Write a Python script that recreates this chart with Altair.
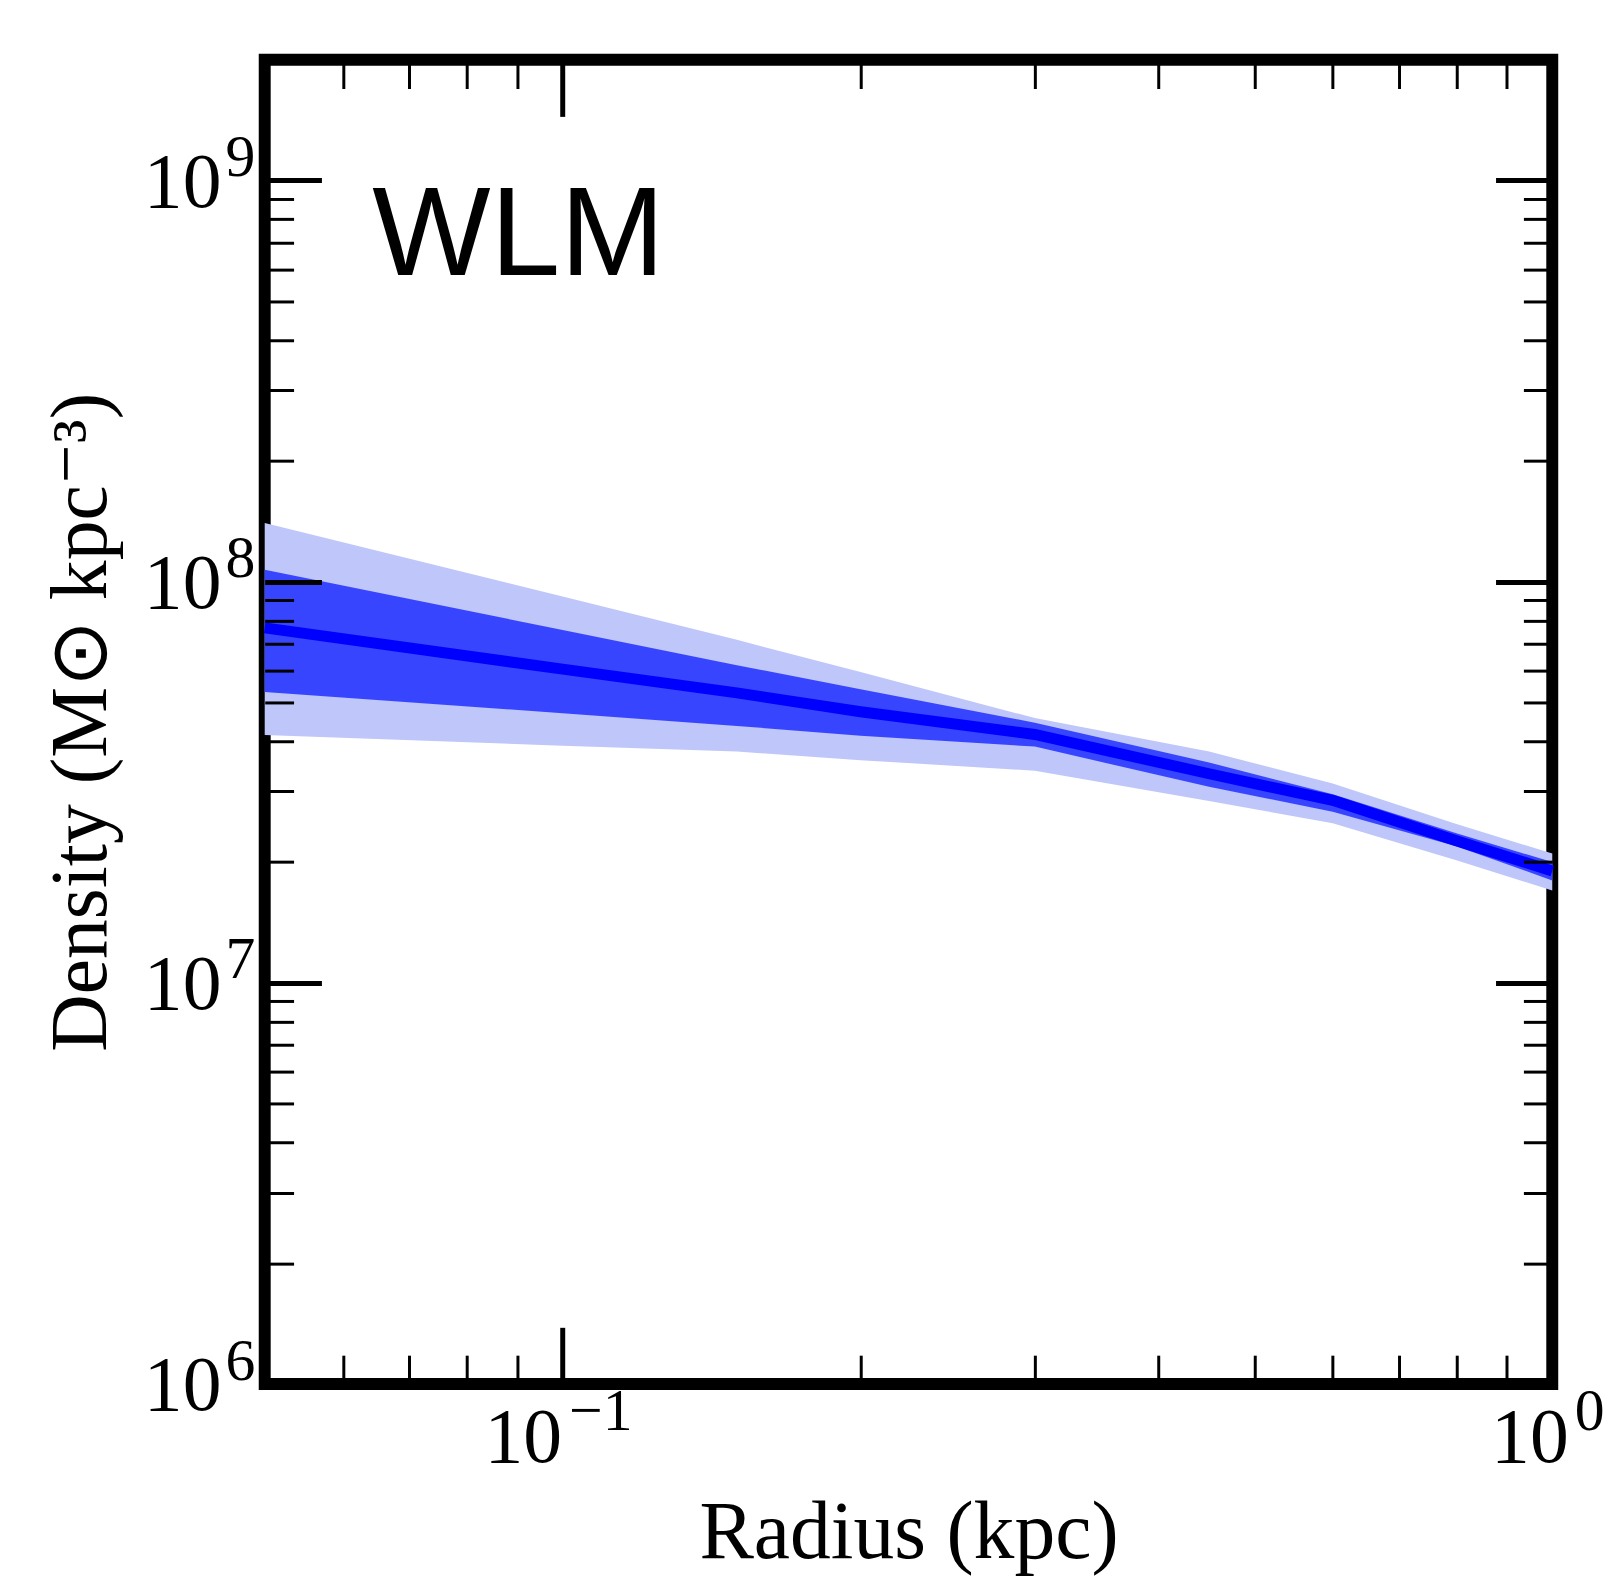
import altair as alt
import pandas as pd

# ---- data ----
radius = [0.05, 0.1, 0.15, 0.2, 0.3, 0.45, 0.6, 0.8, 1.0]
median = [7.67e7, 6.05e7, 5.28e7, 4.74e7, 4.16e7, 3.32e7, 2.85e7, 2.26e7, 1.90e7]
inner_lo = [5.31e7, 4.70e7, 4.37e7, 4.13e7, 3.88e7, 3.08e7, 2.67e7, 2.19e7, 1.80e7]
inner_hi = [1.07e8, 7.58e7, 6.19e7, 5.39e7, 4.45e7, 3.54e7, 2.95e7, 2.36e7, 2.00e7]
outer_lo = [4.15e7, 3.90e7, 3.77e7, 3.59e7, 3.38e7, 2.84e7, 2.50e7, 2.02e7, 1.70e7]
outer_hi = [1.40e8, 9.18e7, 7.16e7, 5.95e7, 4.57e7, 3.77e7, 3.14e7, 2.49e7, 2.10e7]

x_major = [0.1, 1.0]
x_minor = [0.06, 0.07, 0.08, 0.09, 0.2, 0.3, 0.4, 0.5, 0.6, 0.7, 0.8, 0.9]
y_major = [1e6, 1e7, 1e8, 1e9]
y_minor = [2e6, 3e6, 4e6, 5e6, 6e6, 7e6, 8e6, 9e6,
           2e7, 3e7, 4e7, 5e7, 6e7, 7e7, 8e7, 9e7,
           2e8, 3e8, 4e8, 5e8, 6e8, 7e8, 8e8, 9e8]

label_name = ["WLM"]
label_r = [0.0642]
label_d = [5.80e8]

df = pd.DataFrame({"r": radius, "med": median, "ilo": inner_lo, "ihi": inner_hi,
                   "olo": outer_lo, "ohi": outer_hi})
df_text = pd.DataFrame({"r": label_r, "d": label_d, "t": label_name})

W, H = 1294, 1331
MAJ, MIN = 57, 29
SERIF = "Liberation Serif"
BASE_FS, EXP_FS = 78, 60

xs = alt.Scale(type="log", domain=[0.05, 1.0], nice=False)
ys = alt.Scale(type="log", domain=[1e6, 2e9], nice=False)


def tick_axis(orient, values, size, width, **kw):
    return alt.Axis(orient=orient, values=values, tickSize=size, offset=-size,
                    tickWidth=width, tickColor="black", domain=False, grid=False,
                    zindex=3, **kw)


label_style = dict(labelFont=SERIF, labelColor="black", labelOverlap=False,
                   labelFlush=False, labelBaseline="alphabetic")

# "10" part of the tick labels (with ticks and titles)
x_main = tick_axis("bottom", x_major, MAJ, 5, labels=True,
                   labelExpr="'10'", labelFontSize=BASE_FS, labelAlign="right",
                   labelPadding=78,
                   labelOffset={"condition": {"test": "datum.value >= 0.99", "value": 16},
                                "value": -1},
                   title="Radius (kpc)", titleFont=SERIF, titleFontSize=82,
                   titleFontWeight="normal", titleColor="black",
                   titleY=174 + MAJ, titleBaseline="alphabetic", **label_style)
y_main = tick_axis("left", y_major, MAJ, 5, labels=True,
                   labelExpr="'10'", labelFontSize=BASE_FS, labelAlign="right",
                   labelPadding=44, labelOffset=26,
                   title="Density (M⊙ kpc⁻³)", titleFont=SERIF, titleFontSize=80,
                   titleFontWeight="normal", titleColor="black",
                   titleX=-184 - MAJ, titleBaseline="middle", **label_style)

# exponent part of the tick labels
x_exp = tick_axis("bottom", x_major, MAJ, 5, labels=True, tickOpacity=0,
                  labelExpr="datum.value >= 0.99 ? '0' : '−1'",
                  labelFontSize=EXP_FS, labelAlign="left", labelPadding=46,
                  labelOffset={"condition": {"test": "datum.value >= 0.99", "value": 22},
                               "value": 6},
                  title=None, **label_style)
y_exp = tick_axis("left", y_major, MAJ, 5, labels=True, tickOpacity=0,
                  labelExpr="datum.value >= 0.99e9 ? '9' : datum.value >= 0.99e8 ? '8' : datum.value >= 0.99e7 ? '7' : '6'",
                  labelFontSize=EXP_FS, labelAlign="left", labelPadding=40,
                  labelOffset=-5, title=None, **label_style)

base = alt.Chart(df)

outer = base.mark_area(color="#bfc6fa", opacity=1).encode(
    x=alt.X("r:Q", scale=xs, axis=x_main),
    y=alt.Y("ohi:Q", scale=ys, axis=y_main),
    y2="olo:Q",
)
inner = base.mark_area(color="#3845ff", opacity=1).encode(
    x=alt.X("r:Q", scale=xs, axis=tick_axis("bottom", x_minor, MIN, 3, labels=False, title=None)),
    y=alt.Y("ihi:Q", scale=ys, axis=tick_axis("left", y_minor, MIN, 3, labels=False, title=None)),
    y2="ilo:Q",
)
line = base.mark_line(color="#0000ff", strokeWidth=11).encode(
    x=alt.X("r:Q", scale=xs, axis=tick_axis("top", x_major, MAJ, 5, labels=False, title=None)),
    y=alt.Y("med:Q", scale=ys, axis=tick_axis("right", y_major, MAJ, 5, labels=False, title=None)),
)
text = alt.Chart(df_text).mark_text(align="left", baseline="alphabetic",
                                    font="Liberation Sans", fontSize=126,
                                    color="black").encode(
    x=alt.X("r:Q", scale=xs, axis=tick_axis("top", x_minor, MIN, 3, labels=False, title=None)),
    y=alt.Y("d:Q", scale=ys, axis=tick_axis("right", y_minor, MIN, 3, labels=False, title=None)),
    text="t:N",
)
exp_host = base.mark_line(strokeOpacity=0).encode(
    x=alt.X("r:Q", scale=xs, axis=x_exp),
    y=alt.Y("med:Q", scale=ys, axis=y_exp),
)

chart = alt.layer(outer, inner, line, text, exp_host).resolve_axis(
    x="independent", y="independent"
).properties(
    width=W, height=H,
    padding={"left": 258, "top": 48, "right": 53, "bottom": 190},
    autosize=alt.AutoSizeParams(type="none"),
    background="white",
).configure_view(stroke="black", strokeWidth=12)

chart.save("out.html", embed_options={"renderer": "svg", "actions": False})
